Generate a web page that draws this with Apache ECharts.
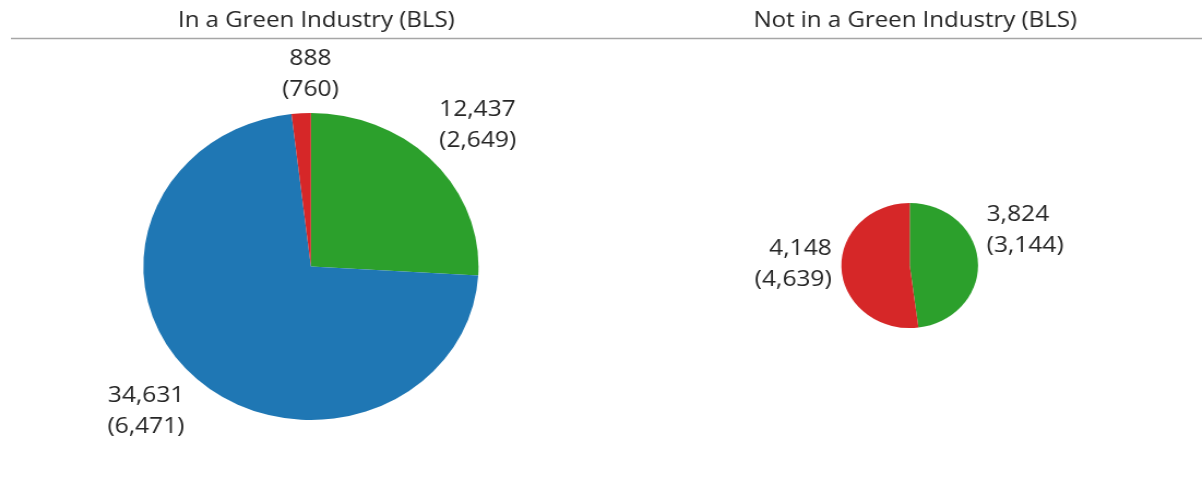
<!DOCTYPE html>
<html>
<head>
<meta charset="utf-8">
<script src="https://cdn.jsdelivr.net/npm/echarts@6/dist/echarts.min.js"></script>
<style>
  html, body { margin: 0; padding: 0; background: #ffffff; overflow: hidden; }
  #wrap { width: 1202px; height: 490px; overflow: hidden; }
  /* drawing is laid out narrower, then widened to the full window */
  #chart { width: 1101px; height: 490px; transform: scaleX(1.0917); transform-origin: 0 0; }
</style>
</head>
<body>
<div id="wrap"><div id="chart"></div></div>
<script>
// ---- data ----
const panelTitles = ['In a Green Industry (BLS)', 'Not in a Green Industry (BLS)'];
const sliceKeys = ['green', 'blue', 'red'];
const sliceColors = ['#2ca02c', '#1f77b4', '#d62728'];

// main counts per slice (green, blue, red)
const inGreenCounts = [12437, 34631, 888];
const inGreenSecondary = [2649, 6471, 760];
const notGreenCounts = [3824, null, 4148];
const notGreenSecondary = [3144, null, 4639];

// ---- layout ----
const FONT = '"Open Sans", "DejaVu Sans", sans-serif';
const TEXT_COLOR = '#262626';
const RADIUS_PER_SQRT = 153.5 / Math.sqrt(47956); // pie area proportional to total
const LABEL_GAP = 8;
const panelLayout = [
  { cx: 284.8, cy: 266.5, nudge: { red: { dx: 9, dy: 0 }, blue: { dx: -5, dy: -4 } } },
  { cx: 833.3, cy: 265.5, nudge: { green: { dx: 0, dy: -31 }, red: { dx: -1, dy: -6 } } }
];

function fmt(n) { return n.toLocaleString('en-US'); }

function buildPanel(counts, secondary, layout) {
  const data = [];
  counts.forEach((v, i) => {
    if (v == null) return;
    data.push({
      name: sliceKeys[i],
      value: v,
      secondary: secondary[i],
      itemStyle: { color: sliceColors[i] }
    });
  });
  const total = data.reduce((a, d) => a + d.value, 0);
  return Object.assign({ data, total, r: RADIUS_PER_SQRT * Math.sqrt(total) }, layout);
}

const panels = [
  buildPanel(inGreenCounts, inGreenSecondary, panelLayout[0]),
  buildPanel(notGreenCounts, notGreenSecondary, panelLayout[1])
];

// outside-end labels: nearest corner of the label box sits just off the rim
function labelLayoutFor(panel) {
  return function (params) {
    const i = params.dataIndex;
    let before = 0;
    for (let k = 0; k < i; k++) before += panel.data[k].value;
    const mid = (before + panel.data[i].value / 2) / panel.total * Math.PI * 2;
    const s = Math.sin(mid), c = Math.cos(mid);
    const d = panel.r + LABEL_GAP;
    const align = s > 0.2 ? 'left' : (s < -0.2 ? 'right' : 'center');
    const verticalAlign = c > 0.2 ? 'bottom' : (c < -0.2 ? 'top' : 'middle');
    const nudge = panel.nudge[panel.data[i].name] || { dx: 0, dy: 0 };
    return {
      x: panel.cx + d * s + nudge.dx,
      y: panel.cy - d * c + nudge.dy,
      align: align,
      verticalAlign: verticalAlign
    };
  };
}

const chart = echarts.init(document.getElementById('chart'), null, { renderer: 'canvas' });

chart.setOption({
  animation: false,
  backgroundColor: '#ffffff',
  title: panels.map((p, i) => ({
    text: panelTitles[i],
    left: p.cx,
    top: 5,
    textAlign: 'center',
    textStyle: { fontFamily: FONT, fontSize: 22, fontWeight: 'normal', color: TEXT_COLOR }
  })),
  graphic: [{
    type: 'line',
    shape: { x1: 10, y1: 38.5, x2: 1101, y2: 38.5 },
    style: { stroke: '#a6a6a6', lineWidth: 1.5 },
    silent: true
  }],
  series: panels.map((p) => ({
    type: 'pie',
    center: [p.cx, p.cy],
    radius: p.r,
    startAngle: 90,
    clockwise: true,
    avoidLabelOverlap: false,
    silent: true,
    emphasis: { disabled: true },
    itemStyle: { borderWidth: 0 },
    labelLine: { show: false },
    label: {
      show: true,
      position: 'outside',
      fontFamily: FONT,
      fontSize: 22.5,
      lineHeight: 31,
      color: TEXT_COLOR,
      formatter: (prm) => fmt(prm.data.value) + '\n(' + fmt(prm.data.secondary) + ')'
    },
    labelLayout: labelLayoutFor(p),
    data: p.data
  }))
});
</script>
</body>
</html>
